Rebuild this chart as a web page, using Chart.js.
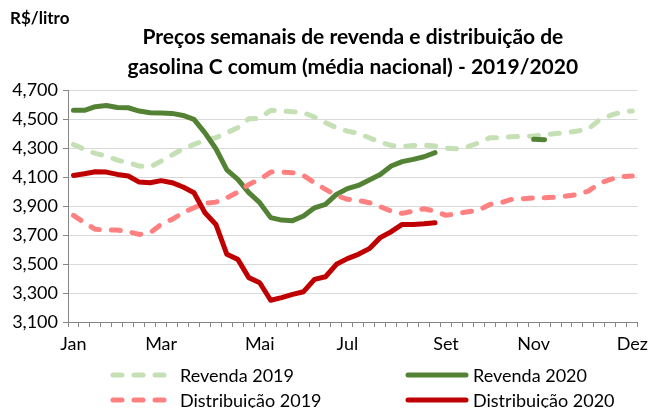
<!DOCTYPE html>
<html>
<head>
<meta charset="utf-8">
<script src="https://cdn.jsdelivr.net/npm/chart.js@4"></script>
<style>
  body { margin: 0; background: #fff; }
  #wrap { position: relative; width: 654px; height: 408px; font-family: "Lato", sans-serif; }
  #unit { position: absolute; left: 10px; top: 7px; font-size: 17px; font-weight: bold; color: #000; }
  .leg { position: absolute; font-size: 18px; color: #000; line-height: 20px; }
  .leg svg { position: absolute; }
</style>
</head>
<body>
<div id="wrap">
  <canvas id="chart" width="654" height="408"></canvas>
  <div id="unit">R$/litro</div>
  <div id="legend"></div>
</div>
<script>
// semanas do ano (52), rótulo só em alguns meses
const months = { 0: "Jan", 8: "Mar", 17: "Mai", 25: "Jul", 34: "Set", 42: "Nov", 51: "Dez" };
const weeks = [];
for (let i = 0; i < 52; i++) weeks.push(months[i] || "");

const yTicks = [3.1, 3.3, 3.5, 3.7, 3.9, 4.1, 4.3, 4.5, 4.7];

// Revenda 2019 (R$/litro)
const revenda2019 = [
  4.325, 4.291, 4.263, 4.245, 4.217, 4.199, 4.176, 4.169, 4.210, 4.252,
  4.295, 4.325, 4.355, 4.371, 4.406, 4.440, 4.502, 4.505, 4.560, 4.555,
  4.551, 4.544, 4.514, 4.475, 4.440, 4.417, 4.401, 4.371, 4.341, 4.318,
  4.309, 4.318, 4.320, 4.314, 4.300, 4.295, 4.309, 4.337, 4.371, 4.371,
  4.378, 4.380, 4.383, 4.390, 4.401, 4.406, 4.417, 4.433, 4.493, 4.525,
  4.548, 4.555
];

// Revenda 2020
const revenda2020 = [
  4.560, 4.560, 4.585, 4.594, 4.580, 4.578, 4.555, 4.544, 4.541, 4.539,
  4.525, 4.498, 4.405, 4.295, 4.150, 4.084, 3.992, 3.923, 3.820, 3.803,
  3.799, 3.831, 3.888, 3.911, 3.980, 4.020, 4.042, 4.079, 4.118, 4.176,
  4.206, 4.222, 4.240, 4.268, null, null, null, null, null, null,
  null, null, 4.360, 4.358, null, null, null, null, null, null,
  null, null
];

// Distribuição 2019
const distrib2019 = [
  3.836, 3.785, 3.739, 3.734, 3.734, 3.723, 3.704, 3.716, 3.773, 3.808,
  3.854, 3.888, 3.918, 3.927, 3.957, 3.996, 4.049, 4.084, 4.134, 4.134,
  4.130, 4.111, 4.061, 4.015, 3.973, 3.946, 3.939, 3.923, 3.895, 3.865,
  3.849, 3.865, 3.881, 3.865, 3.836, 3.847, 3.861, 3.872, 3.911, 3.923,
  3.946, 3.950, 3.957, 3.957, 3.962, 3.969, 3.980, 4.003, 4.056, 4.084,
  4.102, 4.107
];

// Distribuição 2020
const distrib2020 = [
  4.111, 4.123, 4.137, 4.134, 4.118, 4.107, 4.065, 4.061, 4.075, 4.061,
  4.031, 3.992, 3.854, 3.773, 3.567, 3.532, 3.406, 3.371, 3.250, 3.268,
  3.291, 3.309, 3.394, 3.412, 3.498, 3.537, 3.567, 3.606, 3.682, 3.723,
  3.773, 3.773, 3.778, 3.785
];

const series = [
  { label: "Revenda 2019", data: revenda2019, color: "#c5e0b4", dash: true, order: 3 },
  { label: "Revenda 2020", data: revenda2020, color: "#548235", dash: false, order: 2 },
  { label: "Distribuição 2019", data: distrib2019, color: "#ff8080", dash: true, order: 1 },
  { label: "Distribuição 2020", data: distrib2020, color: "#c00000", dash: false, order: 0 }
];

const fmt = v => v.toFixed(3).replace(".", ",");
const font = { family: "Lato", size: 18 };
const axisGray = "#868686";

new Chart(document.getElementById("chart"), {
  type: "line",
  data: {
    labels: weeks,
    datasets: series.map(s => ({
      label: s.label,
      data: s.data,
      borderColor: s.color,
      backgroundColor: s.color,
      borderWidth: 5,
      borderDash: s.dash ? [9, 12] : [],
      borderCapStyle: "round",
      borderJoinStyle: "round",
      pointRadius: 0,
      tension: 0,
      spanGaps: false,
      order: s.order
    }))
  },
  options: {
    responsive: false,
    animation: false,
    devicePixelRatio: 1,
    layout: { padding: { left: 0, right: 11, top: 22, bottom: 46 } },
    plugins: {
      legend: { display: false },
      tooltip: { enabled: false },
      title: {
        display: true,
        fullSize: false,
        text: ["Preços semanais de revenda e distribuição de", "gasolina C comum (média nacional) - 2019/2020"],
        font: { family: "Lato", size: 21, weight: "bold", lineHeight: 1.43 },
        color: "#000",
        padding: { top: 0, bottom: 8 }
      }
    },
    scales: {
      x: {
        type: "category",
        offset: true,
        grid: { offset: true, drawOnChartArea: false, tickLength: 5, color: axisGray },
        border: { color: axisGray },
        ticks: { autoSkip: false, maxRotation: 0, font: font, color: "#000", padding: 6 },
        afterFit: s => { s.height = 40; }
      },
      y: {
        min: yTicks[0],
        max: yTicks[yTicks.length - 1],
        afterBuildTicks: s => { s.ticks = yTicks.map(v => ({ value: v })); },
        grid: { color: "#d9d9d9", tickColor: axisGray, tickLength: 5 },
        border: { color: axisGray },
        ticks: { font: font, color: "#000", padding: 5, callback: v => fmt(v) },
        afterFit: s => { s.width = 68; }
      }
    }
  }
});

// legenda 2x2
const legPos = [
  { x: 110, y: 375 }, { x: 405, y: 375 },
  { x: 110, y: 400 }, { x: 405, y: 400 }
];
const legend = document.getElementById("legend");
series.forEach((s, i) => {
  const p = legPos[i];
  const el = document.createElement("div");
  el.className = "leg";
  el.style.left = p.x + "px";
  el.style.top = (p.y - 10) + "px";
  const dash = s.dash ? ' stroke-dasharray="9 12"' : "";
  el.innerHTML =
    '<svg width="70" height="20" style="left:0;top:0"><line x1="3" y1="10" x2="' + (s.dash ? 57 : 61) +
    '" y2="10" stroke="' + s.color + '" stroke-width="5" stroke-linecap="round"' + dash + '/></svg>' +
    '<span style="position:absolute;left:' + (s.dash ? 70 : 68) + 'px;top:0;white-space:nowrap">' + s.label + '</span>';
  legend.appendChild(el);
});
</script>
</body>
</html>
